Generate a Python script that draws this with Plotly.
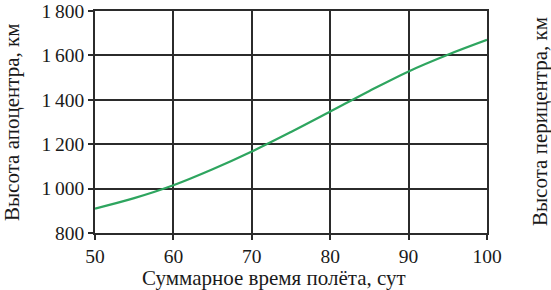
import plotly.graph_objects as go

days = [50, 55, 60, 65, 70, 75, 80, 85, 90, 95, 100]
apocenter_km = [910, 957, 1015, 1087, 1167, 1255, 1347, 1440, 1528, 1603, 1670]

x_ticks = [50, 60, 70, 80, 90, 100]
y_ticks = [800, 1000, 1200, 1400, 1600, 1800]
y_tick_labels = ["800", "1\u2009000", "1\u2009200", "1\u2009400", "1\u2009600", "1\u2009800"]

x_title = "Суммарное время полёта, сут"
y_title_left = "Высота апоцентра, км"
y_title_right = "Высота перицентра, км"

FONT = "Liberation Serif"
INK = "#2b2b2b"
TXT = "#1a1a1a"

fig = go.Figure()
fig.add_trace(go.Scatter(
    x=days, y=apocenter_km, mode="lines",
    line=dict(color="#2ea55f", width=2.2, shape="spline", smoothing=1.0),
    showlegend=False, hoverinfo="skip",
))

axis_common = dict(
    showgrid=True, gridcolor=INK, gridwidth=1.5,
    showline=True, linecolor=INK, linewidth=1.5, mirror=True,
    ticks="outside", ticklen=5, tickcolor=INK, tickwidth=1.5,
    zeroline=False, automargin=False, ticklabeloverflow="allow",
    tickfont=dict(family=FONT, size=19.5, color=TXT),
)

fig.update_layout(
    width=551, height=290,
    margin=dict(l=95, r=64, t=11, b=57, autoexpand=False),
    paper_bgcolor="white", plot_bgcolor="white",
    font=dict(family=FONT, size=20, color=TXT),
    xaxis=dict(range=[50, 100], tickvals=x_ticks,
               ticktext=[str(v) for v in x_ticks], **axis_common),
    yaxis=dict(range=[800, 1800], tickvals=y_ticks,
               ticktext=y_tick_labels, **axis_common),
    annotations=[
        dict(text=x_title, xref="paper", yref="paper", x=0.4566, y=0,
             xanchor="center", yanchor="middle", yshift=-45, showarrow=False,
             font=dict(family=FONT, size=21, color=TXT)),
        dict(text=y_title_left, xref="paper", yref="paper", x=0, y=0.5,
             xanchor="center", yanchor="middle", xshift=-83, textangle=-90,
             showarrow=False, font=dict(family=FONT, size=21, color=TXT)),
        dict(text=y_title_right, xref="paper", yref="paper", x=1, y=0.5,
             xanchor="center", yanchor="middle", xshift=53, textangle=-90,
             showarrow=False, font=dict(family=FONT, size=21, color=TXT)),
    ],
)

fig.write_html("out.html", config={"displayModeBar": False},
               post_script="document.body.style.margin='0';document.body.style.overflow='hidden';")
